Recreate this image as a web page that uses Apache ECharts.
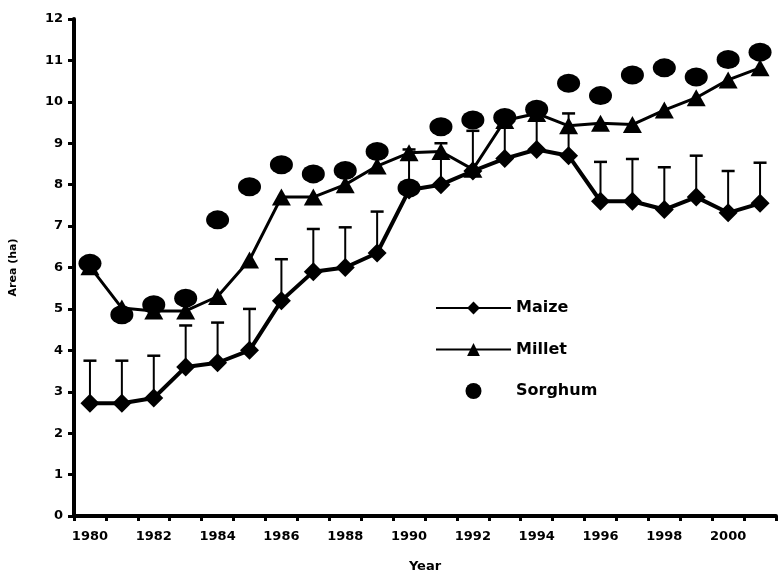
<!DOCTYPE html>
<html>
<head>
<meta charset="utf-8">
<script src="https://cdn.jsdelivr.net/npm/echarts@6/dist/echarts.min.js"></script>
<style>
  html, body { margin: 0; padding: 0; background: #fff; }
  #chart { width: 778px; height: 572px; }
</style>
</head>
<body>
<div id="chart"></div>
<script>
const years = ['1980', '1981', '1982', '1983', '1984', '1985', '1986', '1987', '1988', '1989', '1990',
    '1991', '1992', '1993', '1994', '1995', '1996', '1997', '1998', '1999', '2000', '2001']
const maize = [2.72, 2.72, 2.85, 3.6, 3.7, 4.0, 5.2, 5.9, 6.0, 6.35, 7.87,
    8.0, 8.33, 8.63, 8.85, 8.7, 7.6, 7.6, 7.4, 7.7, 7.32, 7.55]
const maizeUpper = [3.75, 3.75, 3.87, 4.6, 4.67, 5.0, 6.2, 6.93, 6.97, 7.35, 8.85,
    9.0, 9.3, 9.6, 9.8, 9.72, 8.55, 8.62, 8.42, 8.7, 8.33, 8.53]
const millet = [6.02, 5.02, 4.95, 4.95, 5.3, 6.18, 7.7, 7.7, 8.0, 8.45, 8.77,
    8.8, 8.37, 9.55, 9.72, 9.42, 9.48, 9.45, 9.8, 10.1, 10.53, 10.82]
const sorghum = [6.1, 4.86, 5.1, 5.26, 7.15, 7.95, 8.48, 8.26, 8.34, 8.8, 7.92,
    9.4, 9.56, 9.62, 9.82, 10.45, 10.15, 10.65, 10.82, 10.6, 11.02, 11.2]

const chart = echarts.init(document.getElementById('chart'))

const boldFont = 'DejaVu Sans'

chart.setOption({
    animation: false,
    backgroundColor: '#fff',
    grid: { left: 74, right: 2, top: 19, bottom: 56, containLabel: false, outerBoundsMode: 'none' },
    legend: {
        orient: 'vertical',
        left: 435,
        top: 300,
        padding: 0,
        itemWidth: 75,
        itemHeight: 16,
        itemGap: 25.5,
        data: ['Maize', 'Millet', 'Sorghum'],
        textStyle: { color: '#000', fontFamily: boldFont, fontWeight: 'bold', fontSize: 16 },
    },
    xAxis: {
        type: 'category',
        data: years,
        boundaryGap: true,
        name: 'Year',
        nameLocation: 'middle',
        nameGap: 44,
        nameTextStyle: { color: '#000', fontFamily: boldFont, fontWeight: 'bold', fontSize: 13 },
        axisLine: { lineStyle: { color: '#000', width: 4 } },
        axisTick: { show: true, interval: 0, length: 5, lineStyle: { color: '#000', width: 3 } },
        axisLabel: { interval: 1, color: '#000', fontFamily: boldFont, fontWeight: 'bold', fontSize: 13, margin: 14 },
        splitLine: { show: false },
    },
    yAxis: {
        type: 'value',
        min: 0,
        max: 12,
        interval: 1,
        name: 'Area (ha)',
        nameLocation: 'middle',
        nameRotate: 90,
        nameGap: 55,
        nameTextStyle: { color: '#000', fontFamily: boldFont, fontWeight: 'bold', fontSize: 11 },
        axisLine: { show: true, lineStyle: { color: '#000', width: 4 } },
        axisTick: { show: true, length: 6, lineStyle: { color: '#000', width: 3 } },
        axisLabel: { color: '#000', fontFamily: boldFont, fontWeight: 'bold', fontSize: 13, margin: 11 },
        splitLine: { show: false },
    },
    series: [
        {
            // upper error bars for maize
            type: 'custom',
            name: 'Maize SD',
            z: 1,
            renderItem: (params, api) => {
                const base = api.coord([api.value(0), api.value(1)])
                const top = api.coord([api.value(0), api.value(2)])
                const half = 6.5
                return {
                    type: 'group',
                    children: [
                        { type: 'line', shape: { x1: base[0], y1: base[1], x2: top[0], y2: top[1] },
                            style: { stroke: '#000', lineWidth: 2 } },
                        { type: 'line', shape: { x1: top[0] - half, y1: top[1], x2: top[0] + half, y2: top[1] },
                            style: { stroke: '#000', lineWidth: 2.5 } },
                    ],
                }
            },
            data: years.map((y, i) => [i, maize[i], maizeUpper[i]]),
        },
        {
            type: 'line',
            name: 'Maize',
            z: 3,
            data: maize,
            symbol: 'diamond',
            symbolSize: 19,
            showAllSymbol: true,
            lineStyle: { color: '#000', width: 4 },
            itemStyle: { color: '#000' },
        },
        {
            type: 'line',
            name: 'Millet',
            z: 3,
            data: millet,
            symbol: 'triangle',
            symbolSize: [19, 17],
            showAllSymbol: true,
            lineStyle: { color: '#000', width: 3 },
            itemStyle: { color: '#000' },
        },
        {
            type: 'scatter',
            name: 'Sorghum',
            z: 4,
            data: sorghum,
            symbol: 'circle',
            symbolSize: [23, 19],
            itemStyle: { color: '#000', opacity: 1 },
        },
    ],
})

window.addEventListener('resize', () => chart.resize())
</script>
</body>
</html>
